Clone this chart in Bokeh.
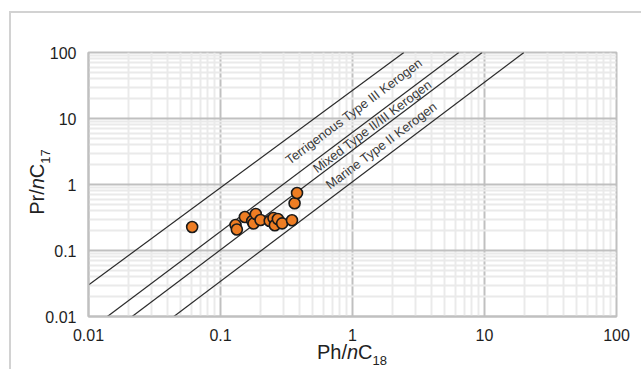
import math
from bokeh.plotting import figure
from bokeh.models import FixedTicker, Label, Range1d, Div
from bokeh.layouts import column
from bokeh.embed import file_html
from bokeh.resources import INLINE

# ---- data ----
ph_nc18 = [0.061, 0.130, 0.133, 0.153, 0.174, 0.178, 0.185, 0.201, 0.236,
           0.252, 0.258, 0.272, 0.293, 0.348, 0.364, 0.380]
pr_nc17 = [0.227, 0.243, 0.208, 0.322, 0.280, 0.256, 0.357, 0.290, 0.280,
           0.311, 0.241, 0.300, 0.258, 0.287, 0.519, 0.743]

# boundary lines (start / end points)
line_x0 = [0.0100, 0.0139, 0.0214, 0.0443]
line_y0 = [0.030, 0.010, 0.010, 0.010]
line_x1 = [2.45, 6.39, 9.6, 19.9]
line_y1 = [100, 100, 100, 100]

zone_names = ["Terrigenous Type III Kerogen", "Mixed Type II/III Kerogen",
              "Marine Type II Kerogen"]

tick_values = [0.01, 0.1, 1, 10, 100]
tick_labels = ["0.01", "0.1", "1", "10", "100"]

x_title = ("Ph/", "n", "C", "18")
y_title = ("Pr/", "n", "C", "17")

# ---- layout ----
W, H = 641, 369
ML, MR, MT, MB = 88, 25, 52, 53
FW, FH = W - ML - MR, H - MT - MB
XDEC, YDEC = FW / 4.0, FH / 4.0

def dx(px):
    return 10 ** (-2 + (px - ML) / XDEC)

def dy(py):
    return 10 ** (-2 + (H - MB - py) / YDEC)

FONT = "Liberation Sans"
MAJOR = "#c0c0c0"
MINOR = "#eaeaea"

p = figure(width=W, height=H, x_axis_type="log", y_axis_type="log",
           x_range=Range1d(0.01, 100), y_range=Range1d(0.01, 100),
           output_backend="svg", toolbar_location=None,
           min_border_left=ML, min_border_right=MR,
           min_border_top=MT, min_border_bottom=MB)
p.border_fill_color = None
p.background_fill_color = "white"
p.outline_line_color = MAJOR
p.outline_line_width = 2
p.styles = {
    "background-color": "white",
    "background-image": "linear-gradient(#d2d2d2,#d2d2d2), linear-gradient(#d2d2d2,#d2d2d2)",
    "background-size": "2px 100%, 100% 2px",
    "background-position": "9px 11px, 9px 11px",
    "background-repeat": "no-repeat",
}

minor = [m * d for d in [0.01, 0.1, 1, 10] for m in range(2, 10)]
for ax in (p.xaxis[0], p.yaxis[0]):
    ax.ticker = FixedTicker(ticks=tick_values, minor_ticks=minor)
    ax.major_label_overrides = {v: l for v, l in zip(tick_values, tick_labels)}
    ax.major_label_text_font = FONT
    ax.major_label_text_font_size = "16px"
    ax.major_label_text_color = "#1e1e1e"
    ax.major_tick_line_color = None
    ax.minor_tick_line_color = None
    ax.axis_line_color = MAJOR
    ax.axis_line_width = 2
    ax.major_label_standoff = 6
    ax.axis_label = None

for g in (p.xgrid[0], p.ygrid[0]):
    g.grid_line_color = MAJOR
    g.grid_line_width = 2
    g.minor_grid_line_color = MINOR
    g.minor_grid_line_width = 2

# boundary lines
p.segment(x0=line_x0, y0=line_y0, x1=line_x1, y1=line_y1,
          line_color="#2b2b2b", line_width=1.2)

# zone labels
label_px = [(353.3, 110.8), (371.7, 125.8), (380.8, 145.0)]
for i, name in enumerate(zone_names):
    lx0, ly0 = math.log10(line_x0[i + 1]), math.log10(line_y0[i + 1])
    lx1, ly1 = math.log10(line_x1[i + 1]), math.log10(line_y1[i + 1])
    ang = math.atan2((ly1 - ly0) * YDEC, (lx1 - lx0) * XDEC)
    px, py = label_px[i]
    p.add_layout(Label(x=dx(px), y=dy(py), text=name, angle=ang,
                       text_font=FONT, text_font_size="13px",
                       text_color="#3c3c3c", text_align="center",
                       text_baseline="middle"))

# points
p.scatter(ph_nc18, pr_nc17, size=11, marker="circle",
          fill_color="#ee7d23", line_color="#1a1a1a", line_width=1.6)

# axis titles as HTML (italic n, subscript digits)
def title_html(parts):
    a, n, c, sub = parts
    return (f'{a}<i>{n}</i>{c}<span style="font-size:13px;position:relative;'
            f'top:6px">{sub}</span>')

common = {"position": "absolute", "font-family": FONT, "font-size": "20px",
          "line-height": "20px", "color": "#222222", "text-align": "center",
          "white-space": "nowrap"}
xdiv = Div(text=title_html(x_title), width=200, height=22, margin=0,
           styles=dict(common, left=f"{ML + FW / 2 - 100:.0f}px", top="342px"))
ydiv = Div(text=title_html(y_title), width=200, height=22, margin=0,
           styles=dict(common, left="27px", top="282px",
                       transform="rotate(-90deg)",
                       **{"transform-origin": "0 0"}))

layout = column(p, xdiv, ydiv, margin=0)
open("out.html", "w").write(file_html(layout, INLINE))
